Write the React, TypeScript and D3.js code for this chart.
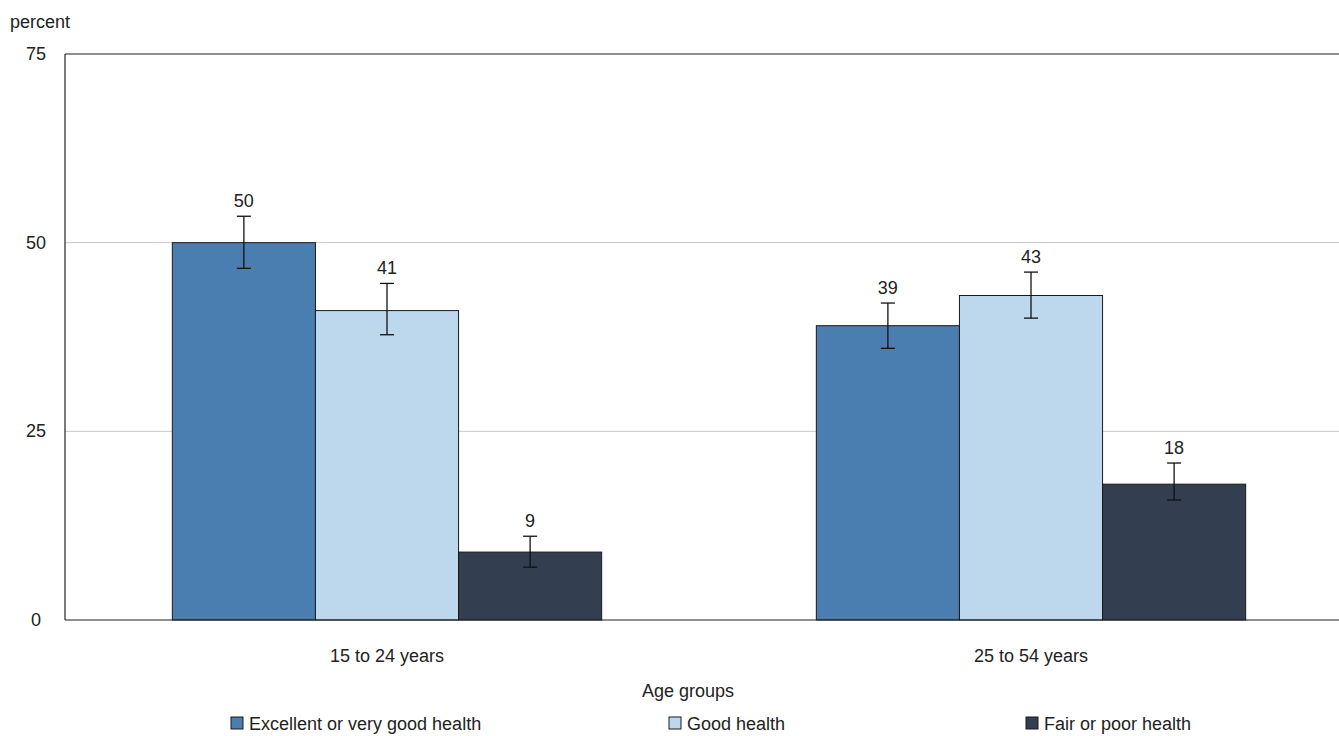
import React from "react";
import * as d3 from "d3";

const categories = ["15 to 24 years", "25 to 54 years"];
const seriesNames = ["Excellent or very good health", "Good health", "Fair or poor health"];
const seriesColors = ["#4a7eb0", "#bdd8ed", "#333f50"];
const excellent = [50, 39];
const good = [41, 43];
const fair = [9, 18];
const excellentLow = [46.6, 36.0];
const excellentHigh = [53.5, 42.0];
const goodLow = [37.8, 40.0];
const goodHigh = [44.6, 46.1];
const fairLow = [7.0, 15.9];
const fairHigh = [11.1, 20.8];
const yTicks = [0, 25, 50, 75];

const FONT = "'Liberation Sans', Arial, sans-serif";

export default function App() {
  const W = 1339, H = 736;
  const left = 65, top = 54, bottom = 620, right = 1353;
  const x0 = d3.scaleBand().domain(categories).range([left, right]).paddingInner(0).paddingOuter(0);
  const x1 = d3.scaleBand().domain(seriesNames).range([0, x0.bandwidth()]).paddingOuter(0.75);
  const y = d3.scaleLinear().domain([0, 75]).range([bottom, top]);
  const values = [excellent, good, fair];
  const lows = [excellentLow, goodLow, fairLow];
  const highs = [excellentHigh, goodHigh, fairHigh];
  const legendX = [231, 669, 1026];
  return (
    <svg width={W} height={H} style={{ position: "absolute", left: 0, top: 0 }} fontFamily={FONT}>
      <rect x={0} y={0} width={W} height={H} fill="#fff" />
      {yTicks.filter(t => t > 0 && t < 75).map(t => (
        <line key={t} x1={left} x2={right} y1={y(t)} y2={y(t)} stroke="#c8c8c8" strokeWidth={1} />
      ))}
      <line x1={left} x2={right} y1={top} y2={top} stroke="#222" strokeWidth={1.2} />
      <line x1={left} x2={left} y1={top} y2={bottom} stroke="#222" strokeWidth={1.2} />
      {yTicks.map(t => (
        <text key={t} x={36} y={y(t) + 6} textAnchor="middle" fontSize={18} fill="#222">{t}</text>
      ))}
      <text x={10} y={28} fontSize={18} fill="#222">percent</text>
      {categories.map((c, ci) => (
        <g key={c}>
          {seriesNames.map((s, si) => {
            const bx = (x0(c) as number) + (x1(s) as number);
            const bw = x1.bandwidth();
            const v = values[si][ci];
            const cx = bx + bw / 2;
            const yl = y(lows[si][ci]);
            const yh = y(highs[si][ci]);
            return (
              <g key={s}>
                <rect x={bx} y={y(v)} width={bw} height={bottom - y(v)} fill={seriesColors[si]} stroke="#1a1a1a" strokeWidth={1} />
                <line x1={cx} x2={cx} y1={yh} y2={yl} stroke="#111" strokeWidth={1.3} />
                <line x1={cx - 7} x2={cx + 7} y1={yh} y2={yh} stroke="#111" strokeWidth={1.3} />
                <line x1={cx - 7} x2={cx + 7} y1={yl} y2={yl} stroke="#111" strokeWidth={1.3} />
                <text x={cx} y={yh - 9} textAnchor="middle" fontSize={18} fill="#222">{v}</text>
              </g>
            );
          })}
          <text x={(x0(c) as number) + x0.bandwidth() / 2} y={662} textAnchor="middle" fontSize={18} fill="#222">{c}</text>
        </g>
      ))}
      <line x1={left} x2={right} y1={bottom} y2={bottom} stroke="#222" strokeWidth={1.2} />
      <text x={688} y={697} textAnchor="middle" fontSize={18} fill="#222">Age groups</text>
      {seriesNames.map((s, i) => (
        <g key={s}>
          <rect x={legendX[i]} y={717} width={12} height={12} fill={seriesColors[i]} stroke="#1a1a1a" strokeWidth={1} />
          <text x={legendX[i] + 18} y={730} fontSize={18} fill="#222">{s}</text>
        </g>
      ))}
    </svg>
  );
}
